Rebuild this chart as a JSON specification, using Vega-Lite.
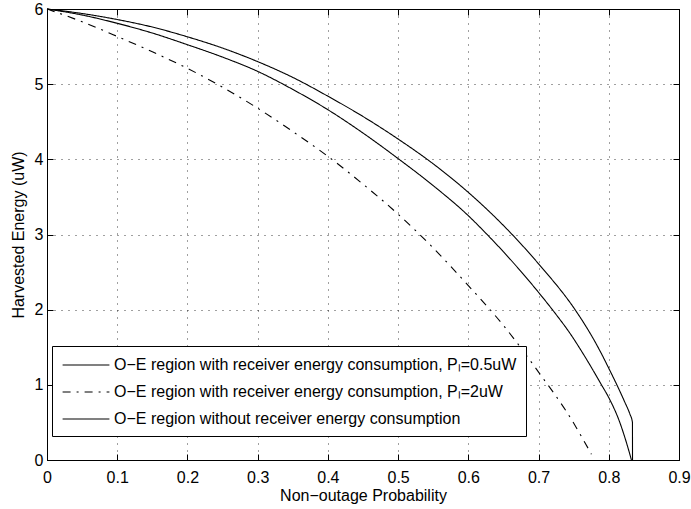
{
  "$schema": "https://vega.github.io/schema/vega-lite/v6.json",
  "width": 632,
  "height": 451,
  "autosize": {"type": "none"},
  "padding": {"left": 47, "top": 9, "right": 12, "bottom": 49},
  "background": "white",
  "config": {
    "view": {"stroke": "black", "strokeWidth": 1},
    "font": "Liberation Sans",
    "axis": {
      "labelFont": "Liberation Sans",
      "labelFontSize": 16,
      "labelColor": "black",
      "titleFont": "Liberation Sans",
      "titleFontSize": 16,
      "titleFontWeight": "normal",
      "titleColor": "black",
      "domainColor": "black",
      "domainWidth": 1,
      "tickColor": "black",
      "tickSize": -6,
      "tickWidth": 1,
      "labelFlush": false,
      "labelOverlap": false,
      "gridColor": "black",
      "gridOpacity": 0.75,
      "gridDash": [1, 6],
      "gridWidth": 1
    },
    "legend": {
      "labelFont": "Liberation Sans",
      "labelFontSize": 16,
      "labelColor": "black",
      "symbolType": "M-2.6,0H2.6",
      "symbolSize": 324,
      "symbolStrokeWidth": 1.1,
      "symbolStrokeColor": "black",
      "symbolFillColor": "transparent",
      "symbolOffset": 15,
      "strokeColor": "black",
      "fillColor": "white",
      "padding": 9,
      "rowPadding": 9,
      "labelOffset": 18,
      "labelLimit": 600,
      "cornerRadius": 0
    }
  },
  "data": {
    "values": [
      {"p": 0, "e": 6.0, "s": "A"},
      {"p": 0.05, "e": 5.92, "s": "A"},
      {"p": 0.1, "e": 5.81, "s": "A"},
      {"p": 0.15, "e": 5.68, "s": "A"},
      {"p": 0.2, "e": 5.525, "s": "A"},
      {"p": 0.25, "e": 5.36, "s": "A"},
      {"p": 0.3, "e": 5.17, "s": "A"},
      {"p": 0.35, "e": 4.93, "s": "A"},
      {"p": 0.4, "e": 4.66, "s": "A"},
      {"p": 0.45, "e": 4.35, "s": "A"},
      {"p": 0.5, "e": 4.01, "s": "A"},
      {"p": 0.55, "e": 3.65, "s": "A"},
      {"p": 0.6, "e": 3.25, "s": "A"},
      {"p": 0.6257, "e": 3.01, "s": "A"},
      {"p": 0.65, "e": 2.77, "s": "A"},
      {"p": 0.7, "e": 2.23, "s": "A"},
      {"p": 0.723, "e": 1.96, "s": "A"},
      {"p": 0.7444, "e": 1.69, "s": "A"},
      {"p": 0.767, "e": 1.36, "s": "A"},
      {"p": 0.7896, "e": 1.0, "s": "A"},
      {"p": 0.8, "e": 0.83, "s": "A"},
      {"p": 0.8157, "e": 0.5, "s": "A"},
      {"p": 0.8252, "e": 0.23, "s": "A"},
      {"p": 0.8323, "e": 0.0, "s": "A"},
      {"p": 0, "e": 6.0, "s": "B"},
      {"p": 0.05, "e": 5.83, "s": "B"},
      {"p": 0.1, "e": 5.635, "s": "B"},
      {"p": 0.15, "e": 5.43, "s": "B"},
      {"p": 0.2, "e": 5.21, "s": "B"},
      {"p": 0.25, "e": 4.96, "s": "B"},
      {"p": 0.3, "e": 4.68, "s": "B"},
      {"p": 0.35, "e": 4.37, "s": "B"},
      {"p": 0.4, "e": 4.04, "s": "B"},
      {"p": 0.45, "e": 3.67, "s": "B"},
      {"p": 0.5, "e": 3.27, "s": "B"},
      {"p": 0.55, "e": 2.82, "s": "B"},
      {"p": 0.6, "e": 2.32, "s": "B"},
      {"p": 0.65, "e": 1.79, "s": "B"},
      {"p": 0.7, "e": 1.17, "s": "B"},
      {"p": 0.7468, "e": 0.54, "s": "B"},
      {"p": 0.7753, "e": 0.076, "s": "B"},
      {"p": 0, "e": 6.0, "s": "C"},
      {"p": 0.05, "e": 5.94, "s": "C"},
      {"p": 0.1, "e": 5.86, "s": "C"},
      {"p": 0.15, "e": 5.76, "s": "C"},
      {"p": 0.2, "e": 5.63, "s": "C"},
      {"p": 0.25, "e": 5.48, "s": "C"},
      {"p": 0.3, "e": 5.3, "s": "C"},
      {"p": 0.35, "e": 5.09, "s": "C"},
      {"p": 0.4, "e": 4.84, "s": "C"},
      {"p": 0.45, "e": 4.57, "s": "C"},
      {"p": 0.5, "e": 4.27, "s": "C"},
      {"p": 0.55, "e": 3.94, "s": "C"},
      {"p": 0.6, "e": 3.56, "s": "C"},
      {"p": 0.65, "e": 3.12, "s": "C"},
      {"p": 0.7, "e": 2.61, "s": "C"},
      {"p": 0.752, "e": 2.0, "s": "C"},
      {"p": 0.768, "e": 1.77, "s": "C"},
      {"p": 0.78, "e": 1.58, "s": "C"},
      {"p": 0.792, "e": 1.37, "s": "C"},
      {"p": 0.8, "e": 1.22, "s": "C"},
      {"p": 0.811, "e": 1.01, "s": "C"},
      {"p": 0.8228, "e": 0.77, "s": "C"},
      {"p": 0.8299, "e": 0.615, "s": "C"},
      {"p": 0.8337, "e": 0.5, "s": "C"},
      {"p": 0.8338, "e": 0.0, "s": "C"}
    ]
  },
  "transform": [
    {"lookup": "s", "from": {"data": {"values": [
      {"s": "A", "series": "O−E region with receiver energy consumption, Pₗ=0.5uW"},
      {"s": "B", "series": "O−E region with receiver energy consumption, Pₗ=2uW"},
      {"s": "C", "series": "O−E region without receiver energy consumption"}
    ]}, "key": "s", "fields": ["series"]}}
  ],
  "layer": [
    {
      "mark": {"type": "line", "color": "black", "strokeWidth": 1.1, "interpolate": "monotone"},
      "encoding": {
        "x": {
          "field": "p", "type": "quantitative",
          "scale": {"domain": [0, 0.9], "nice": false, "zero": false},
          "axis": {
            "title": "Non−outage Probability",
            "values": [0, 0.1, 0.2, 0.3, 0.4, 0.5, 0.6, 0.7, 0.8, 0.9],
            "format": "~g",
            "labelPadding": 15,
            "titlePadding": 2,
            "grid": true
          }
        },
        "y": {
          "field": "e", "type": "quantitative",
          "scale": {"domain": [0, 6], "nice": false},
          "axis": {
            "title": "Harvested Energy (uW)",
            "values": [0, 1, 2, 3, 4, 5, 6],
            "format": "d",
            "labelPadding": 10,
            "titlePadding": 8,
            "grid": true
          }
        },
        "strokeDash": {
          "field": "series", "type": "nominal",
          "scale": {
            "domain": [
              "O−E region with receiver energy consumption, Pₗ=0.5uW",
              "O−E region with receiver energy consumption, Pₗ=2uW",
              "O−E region without receiver energy consumption"
            ],
            "range": [[1, 0], [8, 6, 2, 6], [1, 0]]
          },
          "legend": {
            "title": null,
            "orient": "none",
            "legendX": 5,
            "legendY": 337
          }
        }
      }
    },
    {
      "mark": {"type": "point", "opacity": 0},
      "encoding": {
        "x": {
          "field": "p", "type": "quantitative",
          "scale": {"domain": [0, 0.9], "nice": false, "zero": false},
          "axis": {"orient": "top", "title": null, "labels": false, "grid": false,
                   "values": [0, 0.1, 0.2, 0.3, 0.4, 0.5, 0.6, 0.7, 0.8, 0.9]}
        },
        "y": {
          "field": "e", "type": "quantitative",
          "scale": {"domain": [0, 6], "nice": false},
          "axis": {"orient": "right", "title": null, "labels": false, "grid": false,
                   "values": [0, 1, 2, 3, 4, 5, 6]}
        }
      }
    }
  ],
  "resolve": {"axis": {"x": "independent", "y": "independent"}}
}
